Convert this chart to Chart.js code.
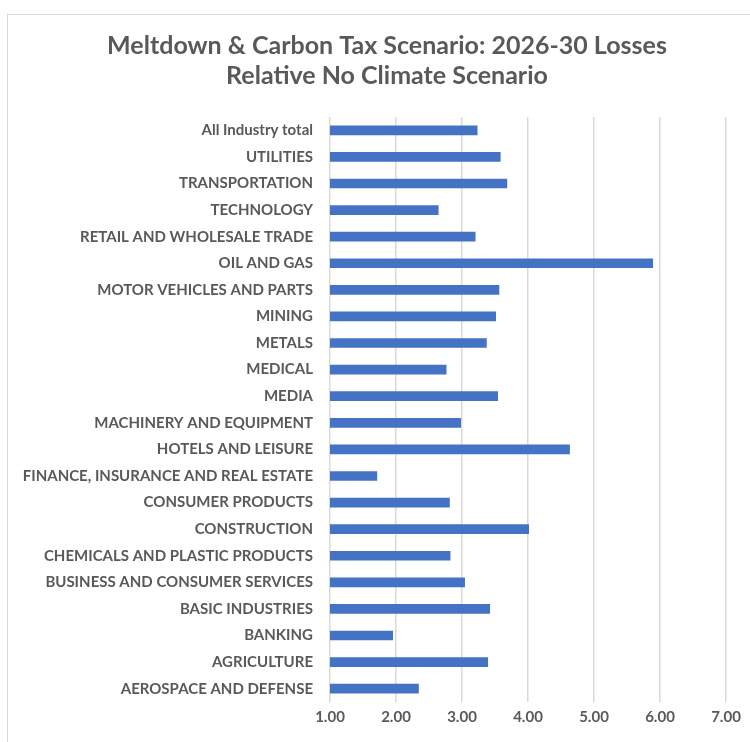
<!DOCTYPE html>
<html>
<head>
<meta charset="utf-8">
<script src="https://cdn.jsdelivr.net/npm/chart.js@4/dist/chart.umd.min.js"></script>
<style>
  html, body { margin: 0; padding: 0; background: #fff; }
  #frame { position: absolute; left: 7px; top: 14px; width: 800px; height: 800px; border: 1px solid #d9d9d9; }
  #wrap { position: absolute; left: 0; top: 0; width: 750px; height: 742px; }
</style>
</head>
<body>
<div id="frame"></div>
<div id="wrap"><canvas id="chart" width="750" height="742"></canvas></div>
<script>
const industries = [
  'All Industry total', 'UTILITIES', 'TRANSPORTATION', 'TECHNOLOGY',
  'RETAIL AND WHOLESALE TRADE', 'OIL AND GAS', 'MOTOR VEHICLES AND PARTS',
  'MINING', 'METALS', 'MEDICAL', 'MEDIA', 'MACHINERY AND EQUIPMENT',
  'HOTELS AND LEISURE', 'FINANCE, INSURANCE AND REAL ESTATE',
  'CONSUMER PRODUCTS', 'CONSTRUCTION', 'CHEMICALS AND PLASTIC PRODUCTS',
  'BUSINESS AND CONSUMER SERVICES', 'BASIC INDUSTRIES', 'BANKING',
  'AGRICULTURE', 'AEROSPACE AND DEFENSE'
];
const losses = [
  3.23, 3.58, 3.68, 2.64, 3.20, 5.89, 3.56, 3.51, 3.37, 2.76, 3.54,
  2.98, 4.63, 1.71, 2.81, 4.01, 2.82, 3.04, 3.42, 1.95, 3.39, 2.34
];
const titleLines = [
  'Meltdown & Carbon Tax Scenario: 2026-30 Losses',
  'Relative No Climate Scenario'
];
const axisMin = 1;
const axisMax = 7;

const textColor = '#595959';
const fontFamily = 'Lato, "Open Sans", sans-serif';

// nudge the title box so it is centred like the reference (frame is offset)
const titleShift = {
  id: 'titleShift',
  afterLayout(chart) {
    if (chart.titleBlock) chart.titleBlock.left += 48;
  },
};

new Chart(document.getElementById('chart'), {
  type: 'bar',
  data: {
    labels: industries,
    datasets: [{
      data: losses,
      backgroundColor: '#4472C4',
      borderWidth: 0,
      barThickness: 9,
    }],
  },
  plugins: [titleShift],
  options: {
    indexAxis: 'y',
    responsive: false,
    animation: false,
    devicePixelRatio: 1,
    layout: { padding: { left: 0, right: 24, top: 0, bottom: 0 } },
    plugins: {
      legend: { display: false },
      tooltip: { enabled: false },
      title: {
        display: true,
        text: titleLines,
        color: textColor,
        font: { family: fontFamily, size: 25, weight: 'bold', lineHeight: 1.2 },
        padding: { top: 31, bottom: 26 },
      },
    },
    scales: {
      x: {
        min: axisMin,
        max: axisMax,
        grid: { color: '#d9d9d9', lineWidth: 1.5, drawTicks: false },
        border: { display: false },
        ticks: {
          stepSize: 1,
          padding: 6,
          color: textColor,
          font: { family: fontFamily, size: 15, weight: 'bold' },
          callback: (v) => Number(v).toFixed(2),
        },
        afterFit: (scale) => { scale.height = 40; },
      },
      y: {
        grid: { display: false, drawTicks: false },
        border: { display: false },
        ticks: {
          padding: 17,
          autoSkip: false,
          color: textColor,
          font: { family: fontFamily, size: 15, weight: 'bold' },
        },
        afterFit: (scale) => { scale.width = 330; },
      },
    },
  },
});
</script>
</body>
</html>
